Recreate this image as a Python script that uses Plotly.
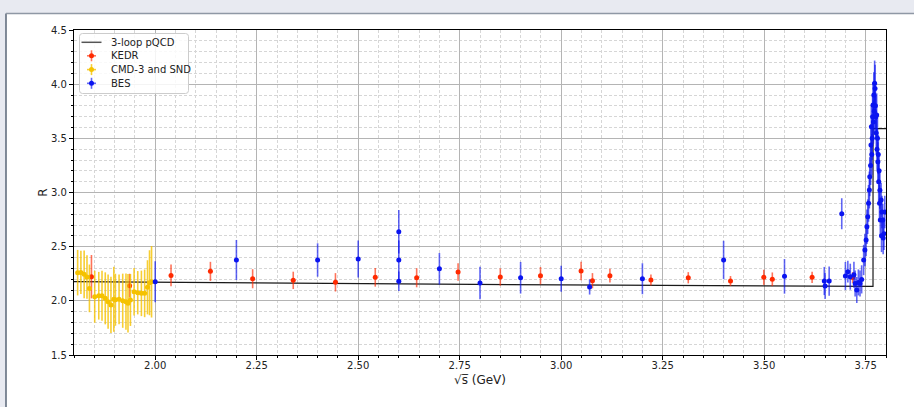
import plotly.graph_objects as go

# ---------------- data ----------------
pqcd_x = [1.80, 2.00, 2.25, 2.50, 2.75, 3.00, 3.25, 3.50, 3.768, 3.7681, 3.80]
pqcd_r = [2.177, 2.171, 2.165, 2.158, 2.152, 2.147, 2.142, 2.138, 2.133, 3.59, 3.59]

kedr_x = [1.843, 1.937, 2.039, 2.136, 2.240, 2.340, 2.444, 2.542, 2.644, 2.746, 2.850,
          2.949, 3.049, 3.077, 3.120, 3.221, 3.313, 3.417, 3.499, 3.520, 3.618, 3.718]
kedr_r = [2.223, 2.140, 2.235, 2.272, 2.204, 2.189, 2.171, 2.217, 2.213, 2.266, 2.220,
          2.232, 2.275, 2.186, 2.232, 2.192, 2.213, 2.183, 2.217, 2.199, 2.217, 2.215]
kedr_e = [0.20, 0.11, 0.10, 0.088, 0.088, 0.08, 0.085, 0.086, 0.088, 0.08, 0.08,
          0.08, 0.085, 0.07, 0.063, 0.05, 0.052, 0.046, 0.07, 0.063, 0.052, 0.05]

cmd_x = [1.809, 1.817, 1.825, 1.832, 1.838, 1.851, 1.861, 1.869, 1.877, 1.884, 1.891,
         1.898, 1.902, 1.911, 1.920, 1.928, 1.933, 1.939, 1.948, 1.957, 1.966, 1.974,
         1.981, 1.986, 1.991]
cmd_r = [2.260, 2.262, 2.245, 2.220, 2.115, 2.038, 2.047, 2.047, 2.023, 1.992, 1.962,
         2.014, 2.010, 2.014, 2.001, 1.992, 1.977, 2.008, 2.084, 2.075, 2.069, 2.069,
         2.125, 2.167, 2.176]
cmd_e = [0.21, 0.20, 0.22, 0.20, 0.22, 0.24, 0.22, 0.23, 0.24, 0.25, 0.26,
         0.30, 0.24, 0.23, 0.25, 0.26, 0.27, 0.24, 0.22, 0.20, 0.21, 0.22,
         0.25, 0.30, 0.33]

bes_x = [2.000, 2.200, 2.400, 2.500, 2.600, 2.600, 2.600, 2.700, 2.800, 2.900, 3.000,
         3.070, 3.200, 3.400, 3.550, 3.648, 3.650, 3.660, 3.691, 3.700, 3.706, 3.712,
         3.721, 3.724, 3.728, 3.732, 3.736, 3.740, 3.745, 3.748, 3.751, 3.753, 3.755,
         3.757, 3.759, 3.760, 3.762, 3.763, 3.764, 3.765, 3.766, 3.767, 3.768, 3.769,
         3.770, 3.771, 3.772, 3.773, 3.774, 3.775, 3.776, 3.777, 3.778, 3.779, 3.780,
         3.781, 3.782, 3.783, 3.784, 3.785, 3.786, 3.788, 3.789, 3.790, 3.792, 3.793,
         3.795, 3.797]
bes_r = [2.176, 2.377, 2.377, 2.386, 2.638, 2.377, 2.180, 2.296, 2.164, 2.213, 2.204,
         2.128, 2.204, 2.377, 2.226, 2.183, 2.137, 2.183, 2.804, 2.229, 2.269, 2.223,
         2.240, 2.161, 2.100, 2.170, 2.161, 2.198, 2.377, 2.469, 2.561, 2.684, 2.777,
         2.900, 3.023, 3.146, 3.250, 3.438, 3.608, 3.350, 3.500, 3.700, 3.808, 3.650,
         3.900, 3.750, 4.008, 3.960, 3.800, 3.700, 3.550, 3.715, 3.400, 3.500, 3.284,
         3.350, 3.100, 3.200, 2.900, 3.020, 2.746, 2.930, 2.600, 2.820, 2.746, 2.580,
         2.620, 2.820]
bes_e = [0.19, 0.185, 0.154, 0.17, 0.20, 0.18, 0.09, 0.146, 0.15, 0.146, 0.12,
         0.07, 0.143, 0.177, 0.16, 0.13, 0.12, 0.135, 0.143, 0.13, 0.10, 0.12,
         0.12, 0.12, 0.12, 0.12, 0.12, 0.13, 0.14, 0.15, 0.15, 0.16, 0.16,
         0.17, 0.17, 0.18, 0.18, 0.19, 0.20, 0.19, 0.20, 0.20, 0.21, 0.20,
         0.21, 0.20, 0.21, 0.22, 0.21, 0.20, 0.20, 0.20, 0.19, 0.19, 0.18,
         0.18, 0.18, 0.17, 0.17, 0.17, 0.16, 0.16, 0.15, 0.15, 0.15, 0.15,
         0.15, 0.15]

x_ticks = [2.00, 2.25, 2.50, 2.75, 3.00, 3.25, 3.50, 3.75]
y_ticks = [1.5, 2.0, 2.5, 3.0, 3.5, 4.0, 4.5]

legend_names = ["3-loop pQCD", "KEDR", "CMD-3 and SND", "BES"]

KEDR_C, KEDR_E = "#ff2a00", "rgba(255,40,0,0.65)"
CMD_C, CMD_E = "#f5c200", "rgba(245,194,0,0.8)"
BES_C, BES_E = "#0a14f0", "rgba(10,20,240,0.65)"
LINE_C = "#1a1a1a"

# ---------------- figure ----------------
fig = go.Figure()

fig.add_trace(go.Scatter(x=pqcd_x, y=pqcd_r, mode="lines", name=legend_names[0],
                         line=dict(color=LINE_C, width=1.2), showlegend=False))


def add_series(name, xs, ys, es, mcolor, ecolor):
    fig.add_trace(go.Scatter(
        x=xs, y=ys, mode="markers", name=name, showlegend=False,
        marker=dict(color=mcolor, size=5, line=dict(width=0)),
        error_y=dict(type="data", array=es, visible=True, color=ecolor,
                     thickness=1.6, width=0),
    ))


add_series(legend_names[1], kedr_x, kedr_r, kedr_e, KEDR_C, KEDR_E)
add_series(legend_names[2], cmd_x, cmd_r, cmd_e, CMD_C, CMD_E)
add_series(legend_names[3], bes_x, bes_r, bes_e, BES_C, BES_E)

# pixel helpers (plot area in page pixels)
L, R_, T, B = 74, 886, 30, 355
W = R_ - L
H = B - T


def px(v):
    return (v - L) / W


def py(v):
    return (B - v) / H


shapes = [
    dict(type="rect", xref="paper", yref="paper", layer="below",
         x0=px(6), x1=px(930), y0=py(14), y1=py(430),
         fillcolor="white", line=dict(width=0)),
    dict(type="line", xref="paper", yref="paper", layer="below",
         x0=px(6), x1=px(6), y0=py(13.5), y1=py(430),
         line=dict(color="#5a6677", width=1.5)),
    dict(type="line", xref="paper", yref="paper", layer="below",
         x0=px(6), x1=px(930), y0=py(13.5), y1=py(13.5),
         line=dict(color="#8f98a5", width=1.5)),
]

# ---- hand-drawn legend box (matplotlib style) ----
lx0, lx1, ly0, ly1, rr = 79.5, 188.5, 33.5, 93.5, 3
path = (f"M {px(lx0+rr)},{py(ly0)} L {px(lx1-rr)},{py(ly0)} "
        f"Q {px(lx1)},{py(ly0)} {px(lx1)},{py(ly0+rr)} "
        f"L {px(lx1)},{py(ly1-rr)} Q {px(lx1)},{py(ly1)} {px(lx1-rr)},{py(ly1)} "
        f"L {px(lx0+rr)},{py(ly1)} Q {px(lx0)},{py(ly1)} {px(lx0)},{py(ly1-rr)} "
        f"L {px(lx0)},{py(ly0+rr)} Q {px(lx0)},{py(ly0)} {px(lx0+rr)},{py(ly0)} Z")
shapes.append(dict(type="path", xref="paper", yref="paper", path=path,
                   fillcolor="rgba(255,255,255,0.85)",
                   line=dict(color="#cccccc", width=1)))

rows_y = [42.3, 55.8, 69.6, 83.3]
shapes.append(dict(type="line", xref="paper", yref="paper",
                   x0=px(81.5), x1=px(101.5), y0=py(rows_y[0]), y1=py(rows_y[0]),
                   line=dict(color="#555555", width=1.5)))
annotations = []
for (yy, mc, ec) in zip(rows_y[1:], [KEDR_C, CMD_C, BES_C], [KEDR_E, CMD_E, BES_E]):
    cx = 91.5
    shapes.append(dict(type="line", xref="paper", yref="paper",
                       x0=px(cx), x1=px(cx), y0=py(yy - 5.5), y1=py(yy + 5.5),
                       line=dict(color=ec, width=1.6)))
    shapes.append(dict(type="line", xref="paper", yref="paper",
                       x0=px(cx - 4.5), x1=px(cx + 4.5), y0=py(yy), y1=py(yy),
                       line=dict(color=ec, width=1.6)))
    shapes.append(dict(type="circle", xref="paper", yref="paper",
                       x0=px(cx - 2.5), x1=px(cx + 2.5), y0=py(yy - 2.5), y1=py(yy + 2.5),
                       fillcolor=mc, line=dict(width=0)))

for yy, name in zip(rows_y, legend_names):
    annotations.append(dict(xref="paper", yref="paper", x=px(109), y=py(yy),
                            xanchor="left", yanchor="middle", showarrow=False,
                            text=name,
                            font=dict(family="DejaVu Sans", size=10, color="#222")))

axis_common = dict(
    showline=True, linecolor="black", linewidth=1.2, mirror=True,
    ticks="outside", ticklen=4, tickcolor="black", tickwidth=1,
    showgrid=True, gridcolor="#b4b4b4", gridwidth=1,
    zeroline=False,
    tickfont=dict(family="DejaVu Sans", size=10, color="#222"),
)

minor_common = dict(showgrid=True, gridcolor="#d6d6d6", griddash="3px,2px",
                    gridwidth=1, ticks="outside", ticklen=2, tickcolor="black")

fig.update_xaxes(
    range=[1.8, 3.8], tickvals=x_ticks, ticktext=[f"{v:.2f}" for v in x_ticks],
    minor=dict(dtick=0.05, tick0=2.0, **minor_common),
    ticklabelstandoff=-3,
    title=dict(text="√s\u0305 (GeV)",
               font=dict(family="DejaVu Sans", size=12, color="#222"), standoff=5),
    **axis_common,
)
fig.update_yaxes(
    range=[1.5, 4.5], tickvals=y_ticks, ticktext=[f"{v:.1f}" for v in y_ticks],
    minor=dict(dtick=0.1, tick0=1.5, **minor_common),
    title=dict(text="R", font=dict(family="DejaVu Sans", size=12, color="#222"),
               standoff=0),
    **axis_common,
)

fig.update_layout(
    width=914, height=407,
    margin=dict(l=L, r=914 - R_, t=T, b=407 - B, autoexpand=False),
    paper_bgcolor="#e8eaf1", plot_bgcolor="white",
    shapes=shapes, annotations=annotations,
    showlegend=False,
)

fig.write_html("out.html", config={"displayModeBar": False},
               post_script="document.body.style.margin='0px';")
